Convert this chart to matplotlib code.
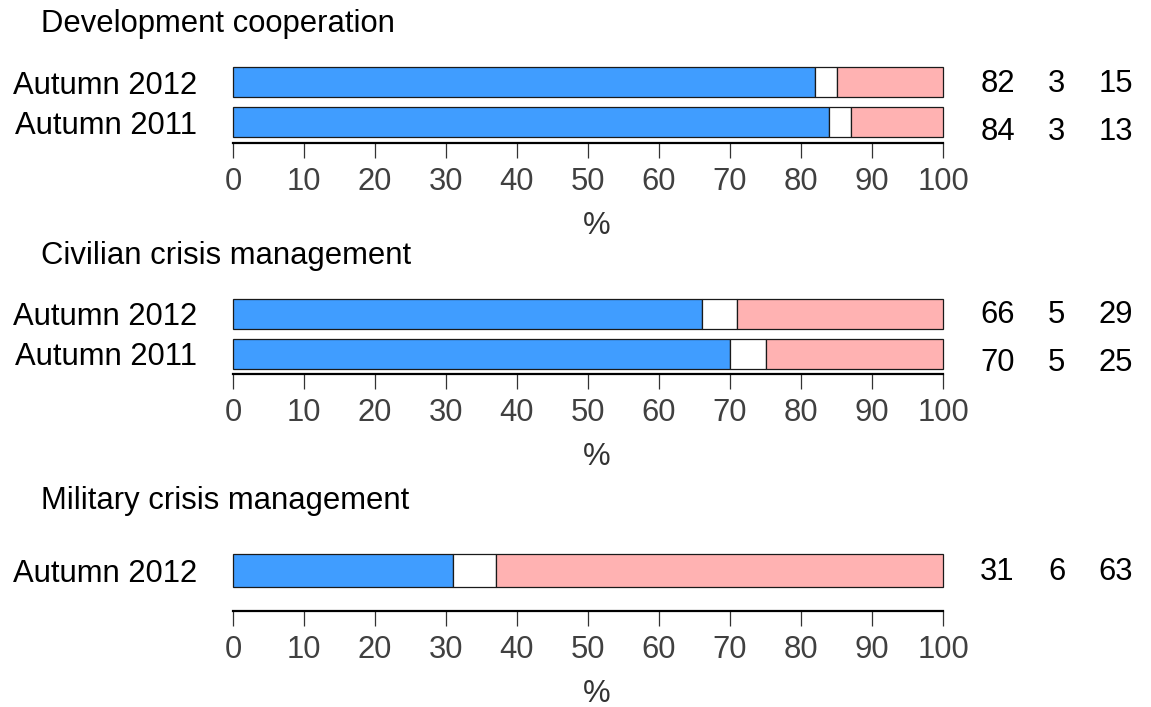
import matplotlib
matplotlib.use("Agg")
import matplotlib.pyplot as plt
from matplotlib.transforms import blended_transform_factory


# data: share of answers (%) per survey round
DEV_LABELS = ["Autumn 2012", "Autumn 2011"]
DEV_YES = [82, 84]
DEV_DK = [3, 3]
DEV_NO = [15, 13]

CIV_LABELS = ["Autumn 2012", "Autumn 2011"]
CIV_YES = [66, 70]
CIV_DK = [5, 5]
CIV_NO = [29, 25]

MIL_LABELS = ["Autumn 2012"]
MIL_YES = [31]
MIL_DK = [6]
MIL_NO = [63]

TITLES = [
    "Development cooperation",
    "Civilian crisis management",
    "Military crisis management",
]

TICKS = [0, 10, 20, 30, 40, 50, 60, 70, 80, 90, 100]

# layout (pixels on a 1151 x 707 canvas)
W, H = 1151, 707
AX_LEFT, AX_RIGHT = 233, 943
PITCH = 40.0  # pixels per bar slot
LAYOUT = [
    {"title_base": 32, "bar0": 82, "axis_y": 142.5, "bar_h": 0.76},
    {"title_base": 264, "bar0": 314, "axis_y": 374, "bar_h": 0.76},
    {"title_base": 509, "bar0": 570.5, "axis_y": 611, "bar_h": 0.84},
]
NUM_X = [997.5, 1056.5, 1115.5]
NUM_STEP = 1.2  # vertical step of the number rows in bar slots
NUM_SHIFT = -0.05

BLUE = "#409dff"
WHITE = "#ffffff"
PINK = "#ffb2b2"
FONT_SIZE = 22.3


def draw_panel(fig, title, labels, yes, dk, no, lay):
    top = lay["bar0"] - PITCH / 2
    bottom = lay["axis_y"]
    ax = fig.add_axes([
        AX_LEFT / W,
        1 - bottom / H,
        (AX_RIGHT - AX_LEFT) / W,
        (bottom - top) / H,
    ])

    pos = list(range(len(labels)))
    left_dk = [a for a in yes]
    left_no = [a + b for a, b in zip(yes, dk)]

    common = dict(height=lay["bar_h"], edgecolor="#1a1a1a", linewidth=0.9, clip_on=False)
    ax.barh(pos, yes, color=BLUE, **common)
    ax.barh(pos, dk, left=left_dk, color=WHITE, **common)
    ax.barh(pos, no, left=left_no, color=PINK, **common)

    ax.set_xlim(0, 100)
    ax.set_ylim(-0.5 + (bottom - top) / PITCH, -0.5)

    for side in ["left", "top", "right"]:
        ax.spines[side].set_visible(False)
    ax.spines["bottom"].set_linewidth(1.6)
    ax.spines["bottom"].set_color("black")

    ax.set_xticks(TICKS)
    ax.set_xticklabels([str(t) for t in TICKS])
    ax.tick_params(axis="x", direction="out", length=11, width=0.9, color="#333333",
                   labelsize=FONT_SIZE, labelcolor="#404040", pad=6.5)
    ax.set_yticks(pos)
    ax.set_yticklabels(labels)
    ax.tick_params(axis="y", length=0, labelsize=FONT_SIZE, pad=26)

    # numbers on the right
    trans = blended_transform_factory(fig.transFigure, ax.transData)
    for i in pos:
        for x, val in zip(NUM_X, [yes[i], dk[i], no[i]]):
            ax.text(x / W, i * NUM_STEP + NUM_SHIFT, str(val), transform=trans,
                    ha="center", va="center_baseline", fontsize=FONT_SIZE)

    fig.text(41 / W, 1 - lay["title_base"] / H, title,
             ha="left", va="baseline", fontsize=FONT_SIZE)
    fig.text(597 / W, 1 - (lay["axis_y"] + 83) / H, "%",
             ha="center", va="center", fontsize=FONT_SIZE, color="#333333")


def main() -> None:
    plt.rcParams["font.family"] = ["Liberation Sans", "DejaVu Sans"]

    fig = plt.figure(figsize=(W / 100, H / 100), dpi=100)
    fig.patch.set_facecolor("white")

    panels = [
        (DEV_LABELS, DEV_YES, DEV_DK, DEV_NO),
        (CIV_LABELS, CIV_YES, CIV_DK, CIV_NO),
        (MIL_LABELS, MIL_YES, MIL_DK, MIL_NO),
    ]
    for title, (labels, yes, dk, no), lay in zip(TITLES, panels, LAYOUT):
        draw_panel(fig, title, labels, yes, dk, no, lay)

    fig.savefig("out.png", dpi=100, facecolor="white")
    plt.close(fig)


if __name__ == "__main__":
    main()
